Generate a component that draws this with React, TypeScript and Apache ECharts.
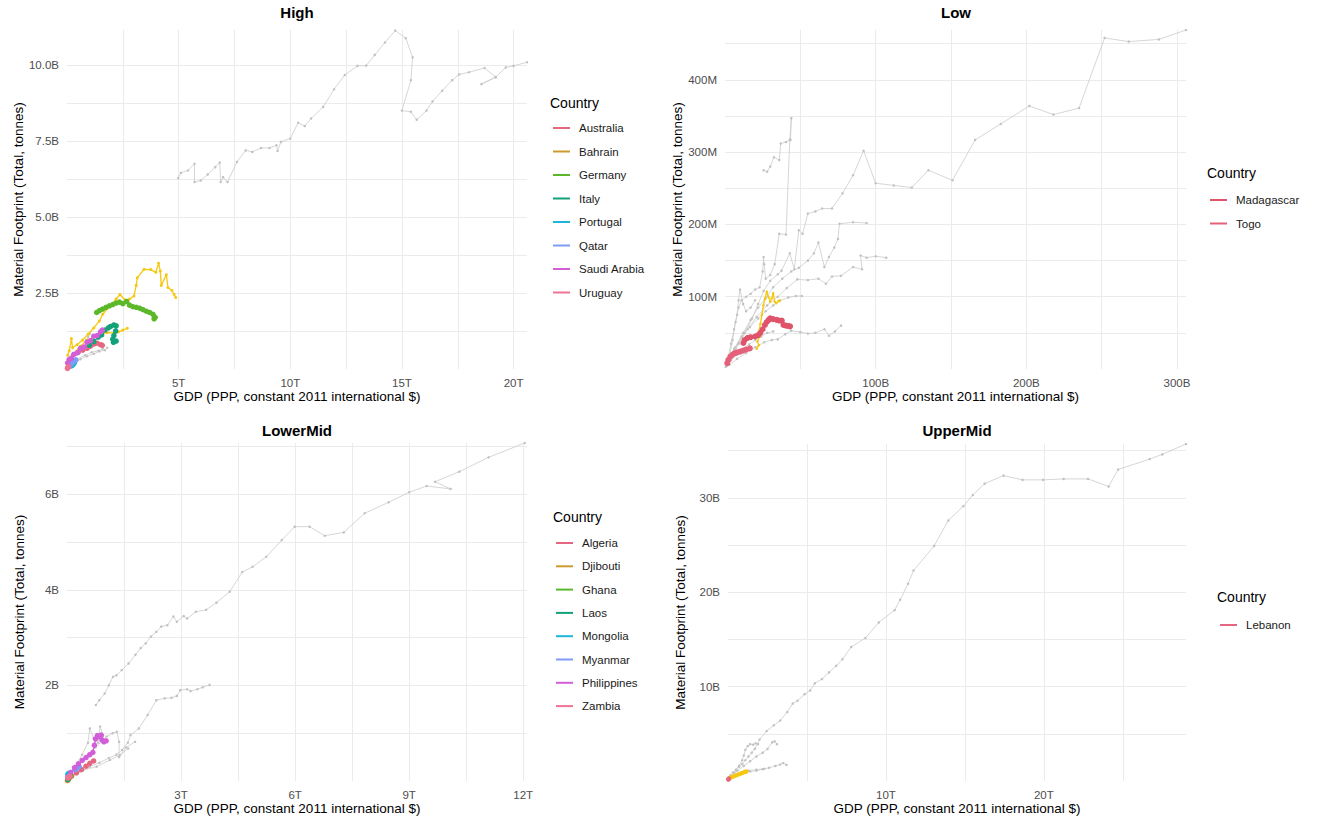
import { useEffect, useRef } from "react";
import * as echarts from "echarts";

// ---------- High income (GDP in trillions, footprint in billions of tonnes) ----------
const highOther1: number[][] = [
  [4.98, 6.28], [5.1, 6.45], [5.42, 6.53], [5.71, 6.75], [5.71, 6.15], [5.99, 6.2], [6.3, 6.4],
  [6.64, 6.64], [6.84, 6.79], [6.88, 6.15], [6.99, 6.31], [7.19, 6.15], [7.61, 6.81], [8.0, 7.19],
  [8.3, 7.14], [8.69, 7.27], [9.07, 7.27], [9.38, 7.36], [9.43, 7.17], [9.58, 7.47], [10.0, 7.58],
  [10.35, 8.1], [10.65, 7.99], [10.93, 8.24], [11.47, 8.62], [11.96, 9.2], [12.44, 9.67], [13.0, 9.97],
  [13.4, 9.98], [13.78, 10.33], [14.24, 10.74], [14.7, 11.13], [15.17, 10.88], [15.48, 10.25],
  [15.4, 9.5], [15.0, 8.5], [15.4, 8.46], [15.66, 8.2], [16.1, 8.5], [16.37, 8.8], [16.8, 9.15],
  [17.25, 9.5], [17.56, 9.69], [18.0, 9.76], [18.7, 9.9], [19.2, 9.6], [18.56, 9.37], [19.2, 9.6],
  [19.65, 9.92], [20.0, 9.97], [20.6, 10.09],
];
const highOther2: number[][] = [
  [0.05, 0.08], [0.3, 0.2], [0.6, 0.32], [0.9, 0.42], [1.2, 0.5], [1.45, 0.58], [1.7, 0.62], [1.8, 0.7],
];
const highOther3: number[][] = [
  [0.08, 0.15], [0.35, 0.45], [0.6, 0.7], [0.85, 0.95], [1.03, 1.17], [0.95, 1.05],
];
const highOther4: number[][] = [
  [0.4, 0.3], [0.8, 0.45], [1.1, 0.55], [1.4, 0.6], [1.6, 0.67],
];
const highYellowA: number[][] = [
  [0.03, 0.45], [0.1, 0.6], [0.2, 1.0], [0.25, 0.7], [0.45, 0.8], [0.7, 0.95], [0.95, 1.15],
  [1.2, 1.35], [1.45, 1.58], [1.6, 1.8], [1.9, 2.05], [2.2, 2.3], [2.37, 2.45], [2.6, 2.27],
  [2.8, 2.3], [3.0, 2.4], [3.1, 2.75], [3.15, 3.0], [3.45, 3.28], [3.75, 3.27], [3.98, 3.18],
  [4.1, 3.48], [4.18, 3.22], [4.22, 2.75], [4.45, 3.1], [4.52, 2.68], [4.7, 2.58], [4.87, 2.35], [4.8, 2.45],
];
const highYellowB: number[][] = [
  [0.05, 0.3], [0.3, 0.5], [0.6, 0.75], [0.9, 0.95], [1.2, 1.05], [1.5, 1.15], [1.8, 1.2],
  [2.1, 1.18], [2.3, 1.22], [2.5, 1.28], [2.7, 1.34],
];
const australia: number[][] = [
  [0.5, 0.55], [0.7, 0.62], [0.9, 0.68], [1.05, 0.75], [1.2, 0.82], [1.35, 0.85], [1.5, 0.8], [1.58, 0.78],
];
const bahrain: number[][] = [[0.03, 0.04], [0.05, 0.06], [0.07, 0.08]];
const germany: number[][] = [
  [1.33, 1.86], [1.45, 1.92], [1.59, 1.97], [1.75, 2.03], [1.9, 2.08], [2.05, 2.12], [2.2, 2.17],
  [2.35, 2.2], [2.5, 2.15], [2.67, 2.22], [2.8, 2.1], [2.95, 2.05], [3.1, 2.03], [3.25, 2.0],
  [3.4, 1.95], [3.55, 1.9], [3.7, 1.86], [3.85, 1.8], [3.95, 1.7], [3.9, 1.65],
];
const italy: number[][] = [
  [1.0, 0.78], [1.2, 0.9], [1.4, 1.05], [1.55, 1.12], [1.7, 1.28], [1.85, 1.35], [1.95, 1.4],
  [2.1, 1.45], [2.2, 1.42], [2.18, 1.25], [2.1, 1.1], [2.05, 0.98], [2.08, 0.88], [2.2, 0.92],
];
const portugal: number[][] = [[0.2, 0.1], [0.25, 0.13], [0.3, 0.17], [0.33, 0.21]];
const qatar: number[][] = [[0.1, 0.1], [0.2, 0.18], [0.3, 0.25], [0.4, 0.3]];
const saudiArabia: number[][] = [
  [0.03, 0.2], [0.1, 0.32], [0.2, 0.36], [0.3, 0.48], [0.45, 0.53], [0.6, 0.68], [0.75, 0.72],
  [0.9, 0.88], [1.05, 0.93], [1.2, 1.08], [1.35, 1.1], [1.5, 1.22], [1.58, 1.28],
];
const uruguay: number[][] = [[0.02, 0.02], [0.05, 0.05], [0.07, 0.07]];

// ---------- Low income (GDP in billions, footprint in millions of tonnes) ----------
const lowOther1: number[][] = [
  [2, 8], [5, 20], [9, 35], [13, 50], [18, 70], [22, 90], [25.6, 108], [30, 122], [35, 131],
  [37.5, 136], [43, 160], [46, 138], [49, 192], [51.5, 187], [55, 215], [60, 218], [64.5, 222],
  [71, 222], [78, 243], [85, 268], [92, 302], [100, 257], [112, 254], [124, 251], [135, 275],
  [151, 261], [166, 317], [183, 339], [202, 364], [218, 352], [235, 361], [252, 458], [268, 453],
  [288, 456], [306, 469],
];
const lowOther2: number[][] = [
  [3, 12], [7, 30], [12, 50], [17, 68], [22, 85], [27, 98], [32, 113], [38, 125], [44, 135],
  [49, 140], [55, 150], [59, 160], [62, 175], [66, 141], [69, 155], [72.5, 168], [75, 180],
  [76, 201], [85, 203], [94, 202],
];
const lowOther3: number[][] = [
  [4, 15], [9, 35], [15, 55], [21, 72], [28, 88], [35, 100], [41, 112], [48, 124], [55, 123],
  [62, 125], [67, 118], [71, 128], [77, 129], [85, 141], [91, 138], [90, 157], [94, 154],
  [100, 156], [107, 154],
];
const lowOther4: number[][] = [
  [2, 10], [6, 28], [11, 45], [16.5, 58], [22, 70], [27, 80], [32, 88], [36, 94], [42, 99],
  [47, 101], [51, 101],
];
const lowOther5: number[][] = [
  [3, 6], [8, 14], [14, 22], [20, 30], [26, 37], [31, 40], [35, 41], [40, 48], [44, 53], [50, 51],
  [55, 49], [60, 50], [66, 55], [69, 46], [73, 52], [77, 60],
];
const lowOther6: number[][] = [
  [1, 5], [3, 18], [5, 40], [7, 65], [9, 85], [11, 95], [14, 100], [17, 104], [20, 110], [23, 113],
  [25, 135], [25.6, 155], [26, 145], [27, 125], [30, 130], [33, 145], [36, 187], [40.5, 186],
  [43, 317], [44, 347], [43.5, 317], [40.5, 314], [37, 312], [36, 289], [32.5, 293], [30, 280],
  [28, 273], [25.6, 275],
];
const lowOther7: number[][] = [
  [0.5, 3], [2, 15], [4, 35], [6, 55], [8, 75], [9, 95], [10, 110], [12, 90], [14, 80], [17, 85], [20, 95],
];
const lowOther8: number[][] = [
  [1, 4], [4, 12], [8, 20], [12, 28], [16, 34], [20, 40], [24, 45], [28, 50], [32, 52],
];
const lowYellow: number[][] = [
  [21, 28], [22.5, 33], [21.5, 38], [23, 45], [22.5, 52], [23.5, 62], [24.5, 75], [25.5, 88],
  [26.5, 97], [27.7, 107], [28.8, 100], [30, 93], [31, 98], [32, 105], [33, 93], [34, 91],
  [35.5, 94], [36.5, 95],
];
const madagascar: number[][] = [
  [12.2, 36], [13, 40], [15, 43], [17, 44], [20, 45], [22, 47], [23.5, 50], [25, 55], [26.5, 61],
  [27.7, 65], [29, 68], [30, 70], [32, 69], [34.3, 68], [36, 67], [37.7, 67], [38.8, 61],
  [40.5, 60], [42, 59.5], [43.2, 59],
];
const togo: number[][] = [
  [1.5, 8], [2.2, 12.5], [3.5, 17], [5, 20], [6.5, 22], [8, 23], [10, 24], [12, 25.5], [14, 27], [16.5, 28.5],
];

// ---------- Lower-middle income (GDP in trillions, footprint in billions of tonnes) ----------
const lmOther1: number[][] = [
  [0.76, 1.59], [0.85, 1.69], [0.99, 1.83], [1.1, 2.0], [1.21, 2.18], [1.3, 2.21], [1.44, 2.32],
  [1.62, 2.46], [1.8, 2.64], [1.94, 2.78], [2.07, 2.88], [2.21, 3.02], [2.35, 3.12], [2.48, 3.23],
  [2.64, 3.26], [2.8, 3.44], [2.89, 3.33], [3.07, 3.45], [3.16, 3.4], [3.39, 3.54], [3.66, 3.58],
  [3.93, 3.73], [4.28, 3.96], [4.61, 4.37], [4.88, 4.48], [5.24, 4.69], [5.65, 5.04], [5.99, 5.32],
  [6.38, 5.32], [6.78, 5.13], [7.28, 5.2], [7.83, 5.6], [8.46, 5.83], [9.0, 6.04], [9.46, 6.17],
  [10.09, 6.11], [9.68, 6.26], [10.32, 6.47], [11.09, 6.77], [12.04, 7.07],
];
const lmOther2: number[][] = [
  [0.15, 0.1], [0.35, 0.2], [0.6, 0.3], [0.85, 0.38], [1.1, 0.48], [1.3, 0.55], [1.45, 0.65],
  [1.6, 0.8], [1.67, 0.96], [1.89, 1.1], [2.12, 1.38], [2.35, 1.69], [2.57, 1.73], [2.75, 1.74],
  [2.89, 1.78], [2.98, 1.9], [3.16, 1.92], [3.25, 1.88], [3.43, 1.92], [3.57, 1.96], [3.75, 2.01],
];
const lmOther3: number[][] = [
  [0.3, 0.35], [0.55, 0.55], [0.75, 0.7], [1.04, 0.93], [1.2, 1.0], [1.31, 1.03], [1.37, 0.82],
  [1.37, 0.5], [1.55, 0.7], [1.79, 0.82],
];
const lmOther4: number[][] = [
  [0.05, 0.1], [0.2, 0.3], [0.4, 0.55], [0.55, 0.8], [0.6, 1.1], [0.7, 0.9], [0.82, 0.8], [0.87, 1.14], [0.95, 0.95],
];
const lmOther5: number[][] = [
  [0.08, 0.09], [0.43, 0.23], [0.78, 0.3], [1.13, 0.44], [1.39, 0.54], [1.61, 0.68],
];
const lmYellow: number[][] = [[0.05, 0.02], [0.08, 0.04], [0.1, 0.05]];
const algeria: number[][] = [
  [0.02, 0.04], [0.12, 0.1], [0.25, 0.17], [0.38, 0.24], [0.5, 0.31], [0.6, 0.37], [0.7, 0.42],
];
const djibouti: number[][] = [[0.01, 0.01], [0.02, 0.015]];
const ghana: number[][] = [[0.03, 0.05], [0.06, 0.08], [0.1, 0.11]];
const laos: number[][] = [[0.02, 0.03], [0.04, 0.05]];
const mongolia: number[][] = [[0.02, 0.14], [0.04, 0.16]];
const myanmar: number[][] = [[0.22, 0.24], [0.27, 0.27], [0.32, 0.3]];
const philippines: number[][] = [
  [0.02, 0.08], [0.1, 0.18], [0.2, 0.28], [0.3, 0.36], [0.4, 0.43], [0.5, 0.49], [0.6, 0.55],
  [0.68, 0.6], [0.72, 0.75], [0.75, 0.88], [0.8, 0.95], [0.86, 0.93], [0.9, 0.96], [0.92, 0.86],
  [0.97, 0.82], [1.03, 0.84],
];
const zambia: number[][] = [[0.02, 0.06], [0.05, 0.08], [0.07, 0.1]];

// ---------- Upper-middle income (GDP in trillions, footprint in billions of tonnes) ----------
const umOther1: number[][] = [
  [0.15, 0.6], [0.3, 0.9], [0.5, 1.2], [0.7, 1.5], [0.9, 1.8], [1.1, 2.2], [1.3, 2.6], [1.5, 3.0],
  [1.7, 3.4], [2.0, 4.4], [2.45, 5.3], [2.9, 5.9], [3.3, 6.4], [3.75, 7.3], [4.1, 8.2], [4.4, 8.5],
  [4.85, 9.2], [5.2, 9.6], [5.5, 10.35], [5.95, 10.8], [6.4, 11.5], [6.85, 12.2], [7.25, 12.9],
  [7.8, 14.2], [8.7, 15.15], [9.55, 16.8], [10.55, 18.1], [10.9, 19.2], [11.4, 20.9], [11.75, 22.3],
  [13.05, 24.9], [13.95, 27.6], [14.9, 29.1], [15.5, 30.3], [16.25, 31.5], [17.45, 32.35],
  [18.65, 31.9], [19.95, 31.9], [21.25, 32.0], [22.8, 32.0], [24.1, 31.2], [24.7, 33.0],
  [26.7, 34.1], [27.5, 34.6], [29.0, 35.7],
];
const umOther2: number[][] = [
  [0.1, 0.3], [0.4, 0.9], [0.7, 1.6], [0.9, 2.2], [1.0, 2.7], [1.1, 3.3], [1.25, 3.7], [1.4, 3.9],
  [1.6, 3.85], [1.75, 4.0], [1.9, 3.9],
];
const umOther3: number[][] = [
  [0.2, 0.5], [0.6, 1.1], [1.0, 1.6], [1.4, 2.1], [1.8, 2.6], [2.2, 3.0], [2.5, 3.4], [2.8, 4.1],
  [2.95, 4.2], [3.1, 3.9],
];
const umOther4: number[][] = [
  [0.2, 0.3], [0.6, 0.7], [1.0, 0.9], [1.4, 1.0], [1.8, 1.1], [2.2, 1.25], [2.6, 1.4], [3.0, 1.6],
  [3.3, 1.75], [3.5, 1.9], [3.7, 1.7],
];
const umOther5: number[][] = [[0.3, 0.5], [0.8, 0.9], [1.3, 1.1], [1.8, 1.2], [2.3, 1.3]];
const umYellow: number[][] = [
  [0.05, 0.25], [0.15, 0.35], [0.3, 0.45], [0.45, 0.55], [0.6, 0.65], [0.75, 0.75], [0.9, 0.85],
  [1.05, 0.95], [1.15, 1.0],
];
const lebanon: number[][] = [[0.02, 0.15], [0.04, 0.2], [0.05, 0.25]];

// ---------- legend order per panel ----------
const highCountries = ["Australia", "Bahrain", "Germany", "Italy", "Portugal", "Qatar", "Saudi Arabia", "Uruguay"];
const lowCountries = ["Madagascar", "Togo"];
const lowerMidCountries = ["Algeria", "Djibouti", "Ghana", "Laos", "Mongolia", "Myanmar", "Philippines", "Zambia"];
const upperMidCountries = ["Lebanon"];

const PALETTE = ["#E5677F", "#CC9A2E", "#5BB82A", "#13A17A", "#1DB5D8", "#7E9BF5", "#D25ED8", "#EE7394"];
const YELLOW = "#F5C710";
const GREY_LINE = "#cccccc";
const GREY_DOT = "#c2c2c2";
const FONT = '"Liberation Sans", Arial, Helvetica, sans-serif';

const X_TITLE = "GDP (PPP, constant 2011 international $)";
const Y_TITLE = "Material Footprint (Total, tonnes)";

function isMultiple(v: number, step: number) {
  const r = v / step;
  return Math.abs(r - Math.round(r)) < 1e-6;
}

function axisCommon(gi: number, max: number, minor: number, major: number, unit: string, decimals: number) {
  return {
    type: "value",
    gridIndex: gi,
    min: 0,
    max,
    interval: minor,
    axisLine: { show: false },
    axisTick: { show: false },
    splitLine: {
      show: true,
      showMinLine: false,
      showMaxLine: false,
      lineStyle: { color: "#ebebeb", width: 1 },
    },
    axisLabel: {
      color: "#4d4d4d",
      fontSize: 11.5,
      fontFamily: FONT,
      formatter: (v: number) => (v > 0 && isMultiple(v, major) ? v.toFixed(decimals) + unit : ""),
    },
    nameLocation: "middle",
    nameTextStyle: { color: "#000", fontSize: 13.5, fontFamily: FONT },
  };
}

function greySeries(data: number[][], gi: number) {
  return {
    type: "line",
    name: "other",
    data,
    xAxisIndex: gi,
    yAxisIndex: gi,
    symbol: "circle",
    symbolSize: 2.5,
    showSymbol: true,
    lineStyle: { color: GREY_LINE, width: 0.8 },
    itemStyle: { color: GREY_DOT },
    silent: true,
    z: 2,
  };
}

function colourSeries(name: string, data: number[][], color: string, gi: number, size = 5) {
  return {
    type: "line",
    name,
    data,
    xAxisIndex: gi,
    yAxisIndex: gi,
    symbol: "circle",
    symbolSize: size,
    showSymbol: true,
    lineStyle: { color, width: 1.3 },
    itemStyle: { color },
    silent: true,
    z: 3,
  };
}

function legendFor(names: string[], left: number, top: number, gap: number) {
  return {
    orient: "vertical",
    left,
    top,
    data: names,
    icon: "rect",
    itemWidth: 17,
    itemHeight: 2,
    itemGap: gap,
    selectedMode: false,
    textStyle: { color: "#1a1a1a", fontSize: 11.5, fontFamily: FONT, lineHeight: 14, padding: [0, 0, 0, 4] },
  };
}

function text(x: number, y: number, str: string, size: number, bold: boolean, align: string) {
  return {
    type: "text",
    x,
    y,
    silent: true,
    style: {
      text: str,
      fill: "#000",
      font: `${bold ? "bold " : ""}${size}px ${FONT}`,
      textAlign: align,
      textVerticalAlign: "middle",
    },
  };
}

export default function App() {
  const ref = useRef<HTMLDivElement>(null);

  useEffect(() => {
    if (!ref.current) return;
    const chart = echarts.init(ref.current, undefined, { renderer: "svg" });

    const grids = [
      { left: 67, top: 30, width: 460, height: 339 },
      { left: 725, top: 30, width: 461, height: 339 },
      { left: 67, top: 443, width: 460, height: 338 },
      { left: 728, top: 444, width: 458, height: 337 },
    ];

    const xAxes = [
      { ...axisCommon(0, 20.6, 2.5, 5, "T", 0), name: X_TITLE, nameGap: 20 },
      { ...axisCommon(1, 306, 50, 100, "B", 0), name: X_TITLE, nameGap: 20 },
      { ...axisCommon(2, 12.1, 1.5, 3, "T", 0), name: X_TITLE, nameGap: 20 },
      { ...axisCommon(3, 29, 5, 10, "T", 0), name: X_TITLE, nameGap: 20 },
    ];
    const yAxes = [
      { ...axisCommon(0, 11.15, 1.25, 2.5, "B", 1), name: Y_TITLE, nameGap: 41 },
      { ...axisCommon(1, 469, 50, 100, "M", 0), name: Y_TITLE, nameGap: 41 },
      { ...axisCommon(2, 7.07, 1, 2, "B", 0), name: Y_TITLE, nameGap: 41 },
      { ...axisCommon(3, 35.7, 5, 10, "B", 0), name: Y_TITLE, nameGap: 41 },
    ];

    const highData = [australia, bahrain, germany, italy, portugal, qatar, saudiArabia, uruguay];
    const lowerMidData = [algeria, djibouti, ghana, laos, mongolia, myanmar, philippines, zambia];

    const series: any[] = [
      // High
      ...[highOther1, highOther2, highOther3, highOther4].map((d) => greySeries(d, 0)),
      colourSeries("high-y1", highYellowA, YELLOW, 0, 3),
      colourSeries("high-y2", highYellowB, YELLOW, 0, 3),
      ...highCountries.map((n, i) => colourSeries(n, highData[i], PALETTE[i], 0, 5.5)),
      // Low
      ...[lowOther1, lowOther2, lowOther3, lowOther4, lowOther5, lowOther6, lowOther7, lowOther8].map((d) =>
        greySeries(d, 1)
      ),
      colourSeries("low-y", lowYellow, YELLOW, 1, 2.5),
      colourSeries("Madagascar", madagascar, "#DF536B", 1, 6),
      colourSeries("Togo", togo, "#E5607A", 1, 6),
      // LowerMid
      ...[lmOther1, lmOther2, lmOther3, lmOther4, lmOther5].map((d) => greySeries(d, 2)),
      colourSeries("lm-y", lmYellow, YELLOW, 2, 3),
      ...lowerMidCountries.map((n, i) => colourSeries(n, lowerMidData[i], PALETTE[i], 2, 5.5)),
      // UpperMid
      ...[umOther1, umOther2, umOther3, umOther4, umOther5].map((d) => greySeries(d, 3)),
      colourSeries("um-y", umYellow, YELLOW, 3, 4.5),
      colourSeries("Lebanon", lebanon, PALETTE[0], 3, 4.5),
    ];

    chart.setOption({
      animation: false,
      backgroundColor: "#ffffff",
      textStyle: { fontFamily: FONT },
      grid: grids,
      xAxis: xAxes,
      yAxis: yAxes,
      legend: [
        legendFor(highCountries, 548, 116, 9.5),
        legendFor(lowCountries, 1205, 188, 9.5),
        legendFor(lowerMidCountries, 551, 531, 9.3),
        legendFor(upperMidCountries, 1215, 613, 9.5),
      ],
      graphic: [
        text(297, 12, "High", 15, true, "center"),
        text(956, 12, "Low", 15, true, "center"),
        text(297, 430, "LowerMid", 15, true, "center"),
        text(957, 430, "UpperMid", 15, true, "center"),
        text(550, 103, "Country", 14, false, "left"),
        text(1207, 173, "Country", 14, false, "left"),
        text(553, 517, "Country", 14, false, "left"),
        text(1217, 597, "Country", 14, false, "left"),
      ],
      series,
    });

    return () => chart.dispose();
  }, []);

  return (
    <div
      ref={ref}
      style={{ position: "fixed", left: 0, top: 0, width: 1320, height: 825, background: "#fff" }}
    />
  );
}
